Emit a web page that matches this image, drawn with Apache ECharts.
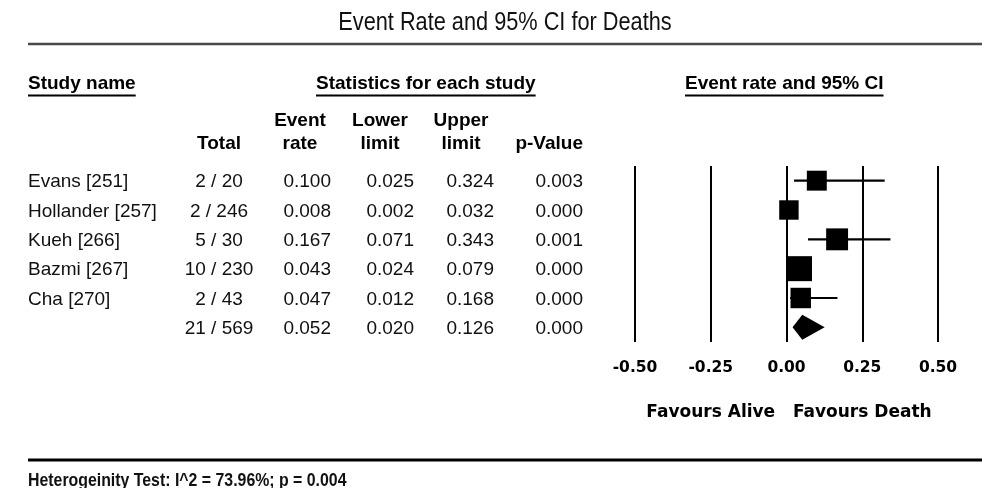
<!DOCTYPE html>
<html>
<head>
<meta charset="utf-8">
<script src="https://cdn.jsdelivr.net/npm/echarts@6/dist/echarts.min.js"></script>
<style>
  html, body { margin: 0; padding: 0; background: #ffffff; }
  #chart { width: 1000px; height: 488px; }
</style>
</head>
<body>
<div id="chart"></div>
<script>
// ---- Study data ----
const studyNames = ['Evans [251]', 'Hollander [257]', 'Kueh [266]', 'Bazmi [267]', 'Cha [270]'];
const deaths     = [2, 2, 5, 10, 2];
const totals     = [20, 246, 30, 230, 43];
const eventRate  = [0.100, 0.008, 0.167, 0.043, 0.047];
const lowerLimit = [0.025, 0.002, 0.071, 0.024, 0.012];
const upperLimit = [0.324, 0.032, 0.343, 0.079, 0.168];
const pValues    = [0.003, 0.000, 0.001, 0.000, 0.000];
const relWeight  = [17.3, 16.4, 20.9, 27.2, 18.2];   // relative weight (%) per study

// ---- Pooled estimate ----
const pooledDeaths = 21;
const pooledTotal  = 569;
const pooledRate   = 0.052;
const pooledLower  = 0.020;
const pooledUpper  = 0.126;
const pooledP      = 0.000;

// ---- Axis & text ----
const axisTicks   = [-0.5, -0.25, 0, 0.25, 0.5];
const tickLabels  = ['-0.50', '-0.25', '0.00', '0.25', '0.50'];
const favourText  = ['Favours Alive', 'Favours Death'];
const favourAt    = [-0.25, 0.25];
const titleText   = 'Event Rate and 95% CI for Deaths';
const sectionHeads = ['Study name', 'Statistics for each study', 'Event rate and 95% CI'];
const footerText  = 'Heterogeinity Test: I^2 = 73.96%; p = 0.004';

// ---- Fonts ----
const SANS = "'Liberation Sans', Arial, sans-serif";
const WIDE = "'DejaVu Sans', Verdana, sans-serif";
const BODY_FONT = '19px ' + SANS;
const HEAD_FONT = 'bold 19px ' + SANS;
const TITLE_SCALE = 0.82;    // horizontal squeeze for the condensed title
const FOOT_SCALE  = 0.835;   // and for the condensed footnote

// ---- Rows: five studies + pooled summary ----
const fmt3 = v => v.toFixed(3);
const tableRows = studyNames.map((n, i) => [
  i, n, deaths[i] + ' / ' + totals[i], fmt3(eventRate[i]), fmt3(lowerLimit[i]), fmt3(upperLimit[i]), fmt3(pValues[i])
]);
tableRows.push([studyNames.length, '', pooledDeaths + ' / ' + pooledTotal, fmt3(pooledRate), fmt3(pooledLower), fmt3(pooledUpper), fmt3(pooledP)]);

const maxW = Math.max.apply(null, relWeight);
const forestRows = studyNames.map((n, i) => [i, eventRate[i], lowerLimit[i], upperLimit[i], relWeight[i], 0]);
forestRows.push([studyNames.length, pooledRate, pooledLower, pooledUpper, 100, 1]);

// table column layout: x position (px within table grid) and alignment
const columns = [
  { x: 28,  align: 'left'   },
  { x: 219, align: 'center' },
  { x: 331, align: 'right'  },
  { x: 414, align: 'right'  },
  { x: 494, align: 'right'  },
  { x: 583, align: 'right'  }
];

const rowAxis = { type: 'value', min: -0.5, max: 5.5, inverse: true, show: false };

function textWidth(str, font) {
  const ctx = document.createElement('canvas').getContext('2d');
  ctx.font = font;
  return ctx.measureText(str).width;
}

const chart = echarts.init(document.getElementById('chart'), null, { renderer: 'canvas' });

const option = {
  animation: false,
  backgroundColor: '#ffffff',
  grid: [
    { left: 635, width: 303, top: 166, height: 176 },   // forest plot
    { left: 0, width: 1000, top: 166, height: 176 }     // statistics table
  ],
  xAxis: [
    {
      gridIndex: 0, type: 'value', min: -0.5, max: 0.5, interval: 0.25,
      axisLine: { show: false },
      axisTick: { show: false },
      splitLine: { show: true, lineStyle: { color: '#000', width: 2 } },
      axisLabel: {
        show: true, margin: 18, showMinLabel: true, showMaxLabel: true,
        color: '#000', fontFamily: WIDE, fontWeight: 'bold', fontSize: 15.5, lineHeight: 15,
        formatter: v => {
          const k = axisTicks.findIndex(t => Math.abs(t - v) < 1e-9);
          return k >= 0 ? tickLabels[k] : '';
        }
      }
    },
    { gridIndex: 1, type: 'value', min: 0, max: 1000, show: false }
  ],
  yAxis: [
    Object.assign({ gridIndex: 0 }, rowAxis),
    Object.assign({ gridIndex: 1 }, rowAxis)
  ],
  series: [
    {
      // effect sizes with confidence intervals, pooled diamond
      type: 'custom',
      xAxisIndex: 0, yAxisIndex: 0,
      clip: false,
      data: forestRows,
      renderItem: function (params, api) {
        const row = api.value(0);
        const c = api.coord([api.value(1), row]);
        const lo = api.coord([api.value(2), row]);
        const hi = api.coord([api.value(3), row]);
        if (api.value(5) === 1) {
          const h = 12.5;
          return {
            type: 'polygon',
            shape: { points: [[lo[0], c[1]], [c[0], c[1] - h], [hi[0], c[1]], [c[0], c[1] + h]] },
            style: { fill: '#000' }
          };
        }
        const side = 25 * Math.sqrt(api.value(4) / maxW);
        return {
          type: 'group',
          children: [
            { type: 'line', shape: { x1: lo[0], y1: c[1], x2: hi[0], y2: c[1] }, style: { stroke: '#000', lineWidth: 2.2 } },
            { type: 'rect', shape: { x: c[0] - side / 2, y: c[1] - side / 2, width: side, height: side }, style: { fill: '#000' } }
          ]
        };
      }
    },
    {
      // statistics table rows
      type: 'custom',
      xAxisIndex: 1, yAxisIndex: 1,
      clip: false,
      data: tableRows,
      renderItem: function (params, api) {
        const r = tableRows[params.dataIndex];
        const children = columns.map((col, k) => {
          const p = api.coord([col.x, r[0]]);
          return {
            type: 'text',
            style: {
              text: r[k + 1], x: p[0], y: p[1] + 1.5,
              font: BODY_FONT, fill: '#111',
              textAlign: col.align, textVerticalAlign: 'middle'
            }
          };
        });
        return { type: 'group', children: children };
      }
    }
  ],
  graphic: []
};

chart.setOption(option);

// ---- Headings, rules and notes ----
const g = [];
const txt = (text, x, y, font, align, fill, sx) => g.push({
  type: 'text', silent: true,
  x: x, y: y, scaleX: sx || 1, scaleY: 1,
  style: { text: text, x: 0, y: 0, font: font, fill: fill || '#111', textAlign: align || 'left', textVerticalAlign: 'middle' }
});
const rule = (x1, y, x2, w, color) => g.push({
  type: 'line', silent: true,
  shape: { x1: x1, y1: y, x2: x2, y2: y },
  style: { stroke: color || '#000', lineWidth: w }
});

txt(titleText, 505, 23, '26.5px ' + SANS, 'center', '#111', TITLE_SCALE);
rule(28, 44, 982, 2.5, '#4a4a4a');

const sectionX = [28, 316, 685];
sectionHeads.forEach((s, i) => {
  txt(s, sectionX[i], 84, HEAD_FONT, 'left', '#000');
  rule(sectionX[i], 95.5, sectionX[i] + textWidth(s, HEAD_FONT), 2, '#000');
});

// column headings
txt('Total', 219, 144, HEAD_FONT, 'center', '#000');
txt('Event', 300, 121, HEAD_FONT, 'center', '#000');
txt('rate', 300, 144, HEAD_FONT, 'center', '#000');
txt('Lower', 380, 121, HEAD_FONT, 'center', '#000');
txt('limit', 380, 144, HEAD_FONT, 'center', '#000');
txt('Upper', 461, 121, HEAD_FONT, 'center', '#000');
txt('limit', 461, 144, HEAD_FONT, 'center', '#000');
txt('p-Value', 583, 144, HEAD_FONT, 'right', '#000');

// direction captions under the axis
favourText.forEach((s, i) => {
  const x = chart.convertToPixel({ xAxisIndex: 0 }, favourAt[i]);
  txt(s, x, 413, 'bold 17px ' + WIDE, 'center', '#000');
});

rule(28, 460, 982, 3, '#000');
txt(footerText, 28, 481, 'bold 19px ' + SANS, 'left', '#111', FOOT_SCALE);

chart.setOption({ graphic: g });
</script>
</body>
</html>
